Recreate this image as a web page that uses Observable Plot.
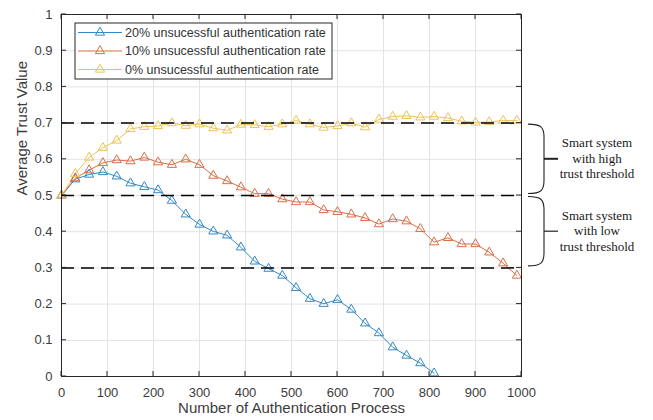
<!DOCTYPE html>
<html><head><meta charset="utf-8">
<script src="https://cdn.jsdelivr.net/npm/d3@7"></script>
<script src="https://cdn.jsdelivr.net/npm/@observablehq/plot@0.6"></script>
<style>
body{margin:0;background:#fff;}
#chart svg{display:block;}
</style></head><body><div id="chart"></div>
<script>
// ---- data ----
const processCounts = [0,30,60,90,120,150,180,210,240,270,300,330,360,390,420,450,480,510,540,570,600,630,660,690,720,750,780,810,840,870,900,930,960,990];
const rate20 = [0.5,0.545,0.558,0.565,0.553,0.534,0.524,0.515,0.486,0.448,0.42,0.401,0.39,0.357,0.318,0.298,0.279,0.245,0.215,0.201,0.212,0.185,0.147,0.12,0.081,0.058,0.037,0.009];
const rate10 = [0.5,0.548,0.57,0.59,0.598,0.595,0.605,0.592,0.585,0.6,0.585,0.555,0.54,0.523,0.505,0.505,0.49,0.482,0.482,0.46,0.455,0.448,0.438,0.421,0.435,0.429,0.408,0.371,0.383,0.366,0.366,0.343,0.313,0.279];
const rate0 = [0.5,0.56,0.605,0.632,0.652,0.684,0.69,0.692,0.70,0.693,0.697,0.686,0.68,0.696,0.695,0.69,0.697,0.707,0.697,0.688,0.692,0.70,0.689,0.71,0.718,0.72,0.716,0.718,0.714,0.705,0.702,0.703,0.707,0.707];
const seriesNames = ["20% unsucessful authentication rate","10% unsucessful authentication rate","0% unsucessful authentication rate"];
const seriesColors = ["#3389c6","#db6d45","#eec157"];
const thresholds = [0.3,0.5,0.7];
const xTicks = [0,100,200,300,400,500,600,700,800,900,1000];
const yTicks = [0,0.1,0.2,0.3,0.4,0.5,0.6,0.7,0.8,0.9,1];
const braceRanges = [[0.5,0.7],[0.3,0.5]];
const braceLabels = [["Smart system","with high","trust threshold"],["Smart system","with low","trust threshold"]];
const xTitle = "Number of Authentication Process";
const yTitle = "Average Trust Value";

const rows = [];
[rate20, rate10, rate0].forEach((vals, s) =>
  vals.forEach((v, i) => rows.push({x: processCounts[i], y: v, series: seriesNames[s]})));

const axisColor = "#262626";
const markerR = 3.4;

// inward ticks on all four sides
const ticksMark = (index, scales, values, dim) => {
  const {x, y} = scales;
  const L = dim.marginLeft, R = dim.width - dim.marginRight, T = dim.marginTop, B = dim.height - dim.marginBottom;
  const len = 5;
  const g = d3.create("svg:g").attr("stroke", axisColor).attr("stroke-width", 1);
  for (const t of xTicks) {
    const px = x(t);
    g.append("line").attr("x1", px).attr("x2", px).attr("y1", B).attr("y2", B - len);
    g.append("line").attr("x1", px).attr("x2", px).attr("y1", T).attr("y2", T + len);
  }
  for (const t of yTicks) {
    const py = y(t);
    g.append("line").attr("x1", L).attr("x2", L + len).attr("y1", py).attr("y2", py);
    g.append("line").attr("x1", R).attr("x2", R - len).attr("y1", py).attr("y2", py);
  }
  return g.node();
};

// legend box
const legendMark = (index, scales, values, dim) => {
  const g = d3.create("svg:g").attr("text-anchor", "start");
  const bx = dim.marginLeft + 14, by = dim.marginTop + 9, bw = 257, bh = 56;
  g.append("rect").attr("x", bx).attr("y", by).attr("width", bw).attr("height", bh)
    .attr("fill", "white").attr("stroke", axisColor).attr("stroke-width", 1);
  const sym = d3.symbol().type(d3.symbolTriangle).size(Math.PI * markerR * markerR);
  seriesNames.forEach((name, i) => {
    const cy = by + 9.5 + i * 18.5;
    const c = seriesColors[i];
    g.append("line").attr("x1", bx + 3).attr("x2", bx + 47).attr("y1", cy).attr("y2", cy)
      .attr("stroke", c).attr("stroke-width", 1);
    g.append("path").attr("d", sym()).attr("transform", `translate(${bx + 25},${cy})`)
      .attr("fill", "none").attr("stroke", c).attr("stroke-width", 1);
    g.append("text").attr("x", bx + 50).attr("y", cy).attr("dy", "0.35em")
      .attr("text-anchor", "start")
      .attr("font-size", 12.5).attr("fill", "#333").text(name);
  });
  return g.node();
};

// braces + annotations at right
const braceMark = (index, scales, values, dim) => {
  const {y} = scales;
  const R = dim.width - dim.marginRight;
  const g = d3.create("svg:g").attr("fill", "none");
  const x0 = R + 7, x1 = R + 23;
  braceRanges.forEach(([lo, hi], i) => {
    const yt = y(hi) + 1.5, yb = y(lo) - 1.5, mid = (yt + yb) / 2;
    g.append("path")
      .attr("d", `M${x0},${yt} C${x1 - 3},${yt} ${x1},${yt + 3} ${x1},${yt + 13} L${x1},${yb - 13} C${x1},${yb - 3} ${x1 - 3},${yb} ${x0},${yb}`)
      .attr("stroke", "#222").attr("stroke-width", 1.1);
    g.append("line").attr("x1", x1).attr("x2", x1 + 14).attr("y1", mid).attr("y2", mid)
      .attr("stroke", "#222").attr("stroke-width", i === 0 ? 2 : 1.2);
    braceLabels[i].forEach((line, j) => {
      g.append("text").attr("x", R + 76).attr("y", mid + 4 + (j - 1) * 15.5)
        .attr("text-anchor", "middle").attr("fill", "#1a1a1a")
        .attr("font-family", "'Liberation Serif','Times New Roman',serif").attr("font-size", 13)
        .text(line);
    });
  });
  return g.node();
};

const chart = Plot.plot({
  width: 653,
  height: 420,
  marginLeft: 61,
  marginRight: 132,
  marginTop: 14,
  marginBottom: 44,
  style: {fontFamily: "'Liberation Sans', Arial, sans-serif", fontSize: "13px", color: "#3c3c3c", background: "white"},
  x: {domain: [0, 1000]},
  y: {domain: [0, 1]},
  color: {domain: seriesNames, range: seriesColors},
  marks: [
    Plot.gridX(xTicks, {stroke: "#e3e3e3", strokeOpacity: 1}),
    Plot.gridY(yTicks, {stroke: "#e3e3e3", strokeOpacity: 1}),
    Plot.axisX(xTicks, {tickSize: 0, tickPadding: 11, tickFormat: d => String(d), label: null}),
    Plot.axisY(yTicks, {tickSize: 0, tickPadding: 9, tickFormat: d => String(d), label: null}),
    Plot.line(rows, {x: "x", y: "y", z: "series", stroke: "series", strokeWidth: 1}),
    Plot.dot(rows, {x: "x", y: "y", stroke: "series", symbol: "triangle", r: markerR, fill: "none", strokeWidth: 1}),
    Plot.ruleY(thresholds, {stroke: "black", strokeWidth: 1.5, strokeDasharray: "13,7"}),
    Plot.frame({stroke: axisColor, strokeWidth: 1}),
    ticksMark,
    legendMark,
    braceMark,
    Plot.text([xTitle], {text: d => d, frameAnchor: "bottom", dy: 36, fontSize: 15, fill: "#3c3c3c"}),
    Plot.text([yTitle], {text: d => d, frameAnchor: "left", dx: -39, rotate: -90, fontSize: 15, fill: "#3c3c3c"})
  ]
});
document.getElementById("chart").append(chart);
</script>
</body></html>
